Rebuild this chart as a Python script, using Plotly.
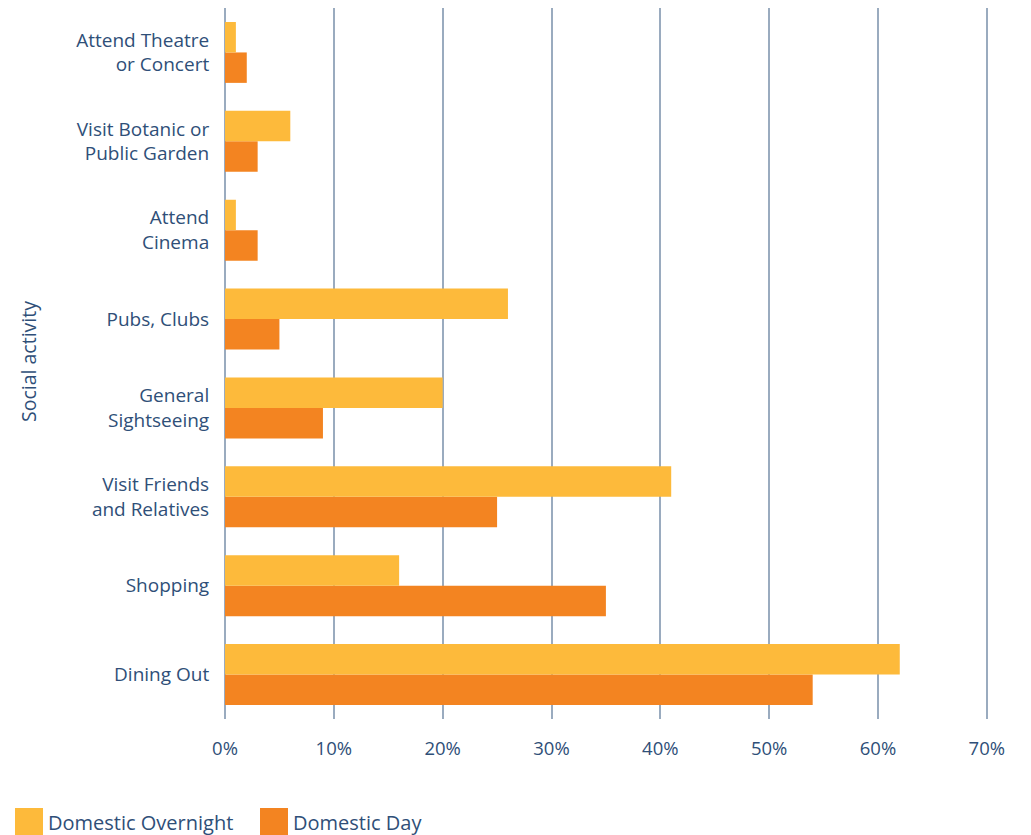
import plotly.graph_objects as go

categories = ["Dining Out", "Shopping", "Visit Friends<br>and Relatives", "General<br>Sightseeing",
              "Pubs, Clubs", "Attend<br>Cinema", "Visit Botanic or<br>Public Garden", "Attend Theatre<br>or Concert"]
overnight = [62, 16, 41, 20, 26, 1, 6, 1]
day = [54, 35, 25, 9, 5, 3, 3, 2]
x_ticks = [0, 10, 20, 30, 40, 50, 60, 70]
x_ticklabels = [f"{v}%" for v in x_ticks]

C_OVER = "#FDBA3B"
C_DAY = "#F38421"
TXT = "#2F4F78"
FONT = "Open Sans"

fig = go.Figure()
fig.add_trace(go.Bar(y=categories, x=day, orientation="h", name="Domestic Day",
                     marker=dict(color=C_DAY, line=dict(width=0))))
fig.add_trace(go.Bar(y=categories, x=overnight, orientation="h", name="Domestic Overnight",
                     marker=dict(color=C_OVER, line=dict(width=0))))

# page is rendered with an 8px offset; figure coords = page coords - 8
OFF = 8
W, H = 1023, 827
L, R, T, B = 217, 42, 0, 116
pw, ph = W - L - R, H - T - B

def px_x(px):
    return (px - OFF - L) / pw

def px_y(py):
    return (H - B - (py - OFF)) / ph

fig.update_layout(
    width=W, height=H,
    margin=dict(l=L, r=R, t=T, b=B, autoexpand=False),
    barmode="group", bargap=0.315, bargroupgap=0,
    plot_bgcolor="white", paper_bgcolor="white",
    showlegend=False,
    font=dict(family=FONT, color=TXT, size=19),
    xaxis=dict(range=[0, 70.2], tickvals=x_ticks, ticktext=x_ticklabels,
               showgrid=True, gridcolor="#9AABBF", gridwidth=1.5,
               zeroline=True, zerolinecolor="#9AABBF", zerolinewidth=1.5,
               ticks="outside", ticklen=13, tickcolor="rgba(0,0,0,0)",
               tickfont=dict(size=18.5, color=TXT, family=FONT), showline=False),
    yaxis=dict(showgrid=False, zeroline=False, showline=False,
               ticks="outside", ticklen=11, tickcolor="rgba(0,0,0,0)",
               tickfont=dict(size=19, color=TXT, family=FONT)),
)

annotations = [
    dict(text="Social activity", xref="paper", yref="paper", x=px_x(28), y=px_y(362),
         textangle=-90, showarrow=False, xanchor="center", yanchor="middle",
         font=dict(size=19.5, color=TXT, family=FONT)),
]
shapes = []
legend_items = [("Domestic Overnight", C_OVER, 15), ("Domestic Day", C_DAY, 260)]
for name, col, x0 in legend_items:
    shapes.append(dict(type="rect", xref="paper", yref="paper",
                       x0=px_x(x0), x1=px_x(x0 + 28), y0=px_y(808), y1=px_y(835),
                       fillcolor=col, line=dict(width=0), layer="above"))
    annotations.append(dict(text=name, xref="paper", yref="paper", x=px_x(x0 + 31), y=px_y(822),
                            showarrow=False, xanchor="left", yanchor="middle",
                            font=dict(size=20, color=TXT, family=FONT)))
fig.update_layout(annotations=annotations, shapes=shapes)

fig.write_html("out.html")
